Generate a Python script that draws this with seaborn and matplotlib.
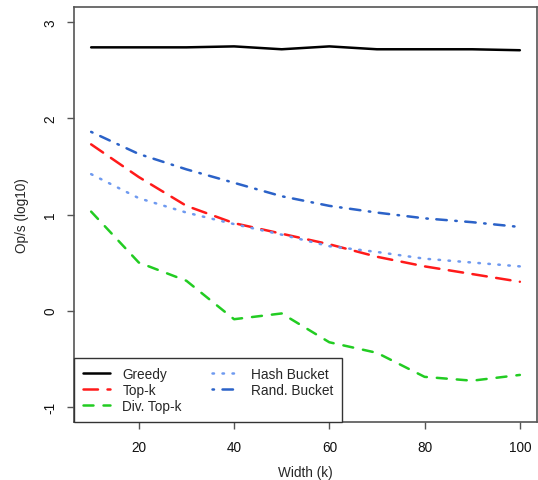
import matplotlib
matplotlib.use("Agg")
import matplotlib.pyplot as plt
import numpy as np
import pandas as pd
import seaborn as sns

# Throughput (log10 ops/s) versus beam width k
widths = [10, 20, 30, 40, 50, 60, 70, 80, 90, 100]
greedy = [2.74, 2.74, 2.74, 2.75, 2.72, 2.75, 2.72, 2.72, 2.72, 2.71]
top_k = [1.73, 1.39, 1.09, 0.91, 0.80, 0.69, 0.56, 0.46, 0.38, 0.30]
div_top_k = [1.03, 0.50, 0.31, -0.09, -0.03, -0.33, -0.44, -0.69, -0.73, -0.67]
hash_bucket = [1.42, 1.17, 1.02, 0.90, 0.79, 0.67, 0.61, 0.54, 0.50, 0.46]
rand_bucket = [1.86, 1.63, 1.47, 1.33, 1.19, 1.09, 1.02, 0.96, 0.92, 0.87]

series_names = ["Greedy", "Top-k", "Div. Top-k", "Hash Bucket", "Rand. Bucket"]
series_values = [greedy, top_k, div_top_k, hash_bucket, rand_bucket]

y_ticks = [-1, 0, 1, 2, 3]
x_ticks = [20, 40, 60, 80, 100]

df = pd.DataFrame(
    [(name, w, v) for name, vals in zip(series_names, series_values)
     for w, v in zip(widths, vals)],
    columns=["method", "width", "ops"],
)

palette = {
    "Greedy": "#000000",
    "Top-k": "#ff1a1a",
    "Div. Top-k": "#22cc22",
    "Hash Bucket": "#6f9af0",
    "Rand. Bucket": "#2b62c8",
}
dashes = {
    "Greedy": "",
    "Top-k": (5.8, 3.8),
    "Div. Top-k": (4, 4),
    "Hash Bucket": (0.6, 3.4),
    "Rand. Bucket": (0.6, 3.4, 4.2, 3.4),
}

sns.set_style("white")
plt.rcParams["font.family"] = ["Liberation Sans", "DejaVu Sans"]
plt.rcParams["lines.dash_capstyle"] = "round"
plt.rcParams["lines.solid_capstyle"] = "round"

fig = plt.figure(figsize=(5.38, 4.81), dpi=100)
ax = fig.add_axes([74 / 538, 58 / 481, 463 / 538, 415 / 481])

sns.lineplot(
    data=df, x="width", y="ops", hue="method", style="method",
    palette=palette, dashes=dashes, hue_order=series_names,
    style_order=series_names, linewidth=1.8, ax=ax,
)

ax.set_xlim(6.4, 103.6)
ax.set_ylim(-1.16, 3.16)
ax.set_xticks(x_ticks)
ax.set_yticks(y_ticks)
ax.set_xticklabels([str(t) for t in x_ticks])
ax.set_yticklabels([str(t) for t in y_ticks])

fs = 9.8
ax.tick_params(axis="both", direction="out", length=5, width=1.0,
               color="#555555", labelsize=fs, labelcolor="#111111",
               bottom=True, left=True)
ax.tick_params(axis="x", pad=8)
ax.tick_params(axis="y", pad=7)
for lab in ax.get_yticklabels():
    lab.set_rotation(90)
    lab.set_va("center")

for s in ax.spines.values():
    s.set_visible(True)
    s.set_color("#555555")
    s.set_linewidth(1.2)

ax.set_xlabel("Width (k)", fontsize=fs, labelpad=8)
ax.set_ylabel("Op/s (log10)", fontsize=fs, labelpad=10)

handles, labels = ax.get_legend_handles_labels()
leg = ax.legend(
    handles, labels, ncol=2, loc="lower left", frameon=True, fancybox=False,
    edgecolor="#333333", fontsize=fs, borderaxespad=0.0, borderpad=0.65,
    handlelength=2.0, handletextpad=0.9, columnspacing=2.2, labelspacing=0.15,
)
leg.get_frame().set_linewidth(1.0)
leg.get_frame().set_alpha(1.0)

fig.savefig("out.png", dpi=100)
